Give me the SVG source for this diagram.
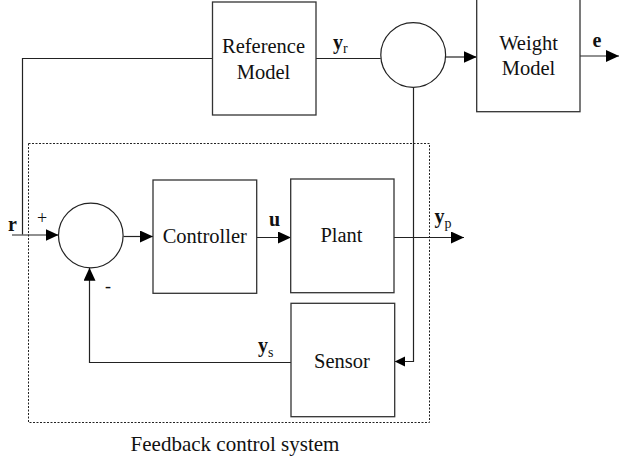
<svg xmlns="http://www.w3.org/2000/svg" width="619" height="461" viewBox="0 0 619 461">
  <style>
    .box { fill: #fff; stroke: #333; stroke-width: 1.3; }
    .sum { fill: #fff; stroke: #222; stroke-width: 1.2; }
    .wire { fill: none; stroke: #222; stroke-width: 1.2; }
    .frame { fill: none; stroke: #222; stroke-width: 1; stroke-dasharray: 2 1.5; }
    text { font-family: 'Liberation Serif', 'DejaVu Serif', serif; fill: #111; }
    .lbl { font-size: 20.5px; text-anchor: middle; }
    .sig { font-size: 20px; font-weight: bold; }
    .sub { font-size: 14px; font-weight: normal; }
    .sign { font-size: 18px; }
  </style>
  <defs>
    <marker id="arrow" markerUnits="userSpaceOnUse" markerWidth="14" markerHeight="12" refX="13" refY="6" orient="auto">
      <path d="M0,0 L13,6 L0,12 Z" fill="#000"/>
    </marker>
    <marker id="arrowSmall" markerUnits="userSpaceOnUse" markerWidth="11" markerHeight="11" refX="10.5" refY="5" orient="auto">
      <path d="M0,0 L10.5,5 L0,10 Z" fill="#000"/>
    </marker>
  </defs>

  <rect width="619" height="461" fill="#fff"/>

  <!-- feedback control system boundary -->
  <g id="feedback-frame">
    <rect class="frame" x="28.5" y="143.5" width="401" height="279"/>
    <text class="lbl" x="235" y="450.5" font-family="Liberation Serif" style="font-size:21px">Feedback control system</text>
  </g>

  <!-- connectors -->
  <g id="connectors">
    <path class="wire" d="M22.5,234.5 V58.5 H212"/>
    <path class="wire" d="M12,235 H58.5" marker-end="url(#arrow)"/>
    <path class="wire" d="M123.5,236.5 H153" marker-end="url(#arrow)"/>
    <path class="wire" d="M257,237.5 H291" marker-end="url(#arrow)"/>
    <path class="wire" d="M394,237.5 H464" marker-end="url(#arrow)"/>
    <path class="wire" d="M291,362.5 H89.5 V267.8" marker-end="url(#arrow)"/>
    <path class="wire" d="M316,58.5 H380.7"/>
    <path class="wire" d="M445.7,57 H476.7" marker-end="url(#arrow)"/>
    <path class="wire" d="M580,56 H619" marker-end="url(#arrow)"/>
    <path class="wire" d="M413.5,87.3 V361.5 H394.7" marker-end="url(#arrowSmall)"/>
  </g>

  <!-- signal labels -->
  <g id="signals">
    <text class="sig" x="8" y="231">r</text>
    <text class="sign" x="37" y="224">+</text>
    <text class="sign" x="105" y="292">-</text>
    <text class="sig" x="269" y="226">u</text>
    <text class="sig" x="434.5" y="223">y<tspan class="sub" dy="5">p</tspan></text>
    <text class="sig" x="258" y="352">y<tspan class="sub" dy="5">s</tspan></text>
    <text class="sig" x="333" y="48.5">y<tspan class="sub" dy="4">r</tspan></text>
    <text class="sig" x="592.5" y="47">e</text>
  </g>

  <g id="reference-model">
    <rect class="box" x="212.5" y="2" width="103.5" height="113"/>
    <text class="lbl" x="263.5" y="52.5">Reference</text>
    <text class="lbl" x="263.5" y="78.5">Model</text>
  </g>

  <g id="error-sum">
    <circle class="sum" cx="413.2" cy="55" r="32.4"/>
  </g>

  <g id="weight-model">
    <rect class="box" x="476.7" y="-5" width="103.3" height="116.7"/>
    <text class="lbl" x="528.5" y="49.5">Weight</text>
    <text class="lbl" x="528.5" y="74.5">Model</text>
  </g>

  <g id="input-sum">
    <circle class="sum" cx="90.8" cy="235.5" r="32.3"/>
  </g>

  <g id="controller">
    <rect class="box" x="153" y="180" width="103.7" height="113.3"/>
    <text class="lbl" x="204.8" y="243">Controller</text>
  </g>

  <g id="plant">
    <rect class="box" x="290.7" y="179" width="103.3" height="113.7"/>
    <text class="lbl" x="341.5" y="242">Plant</text>
  </g>

  <g id="sensor">
    <rect class="box" x="291" y="303.3" width="103.7" height="113.4"/>
    <text class="lbl" x="342" y="367.5">Sensor</text>
  </g>
</svg>
